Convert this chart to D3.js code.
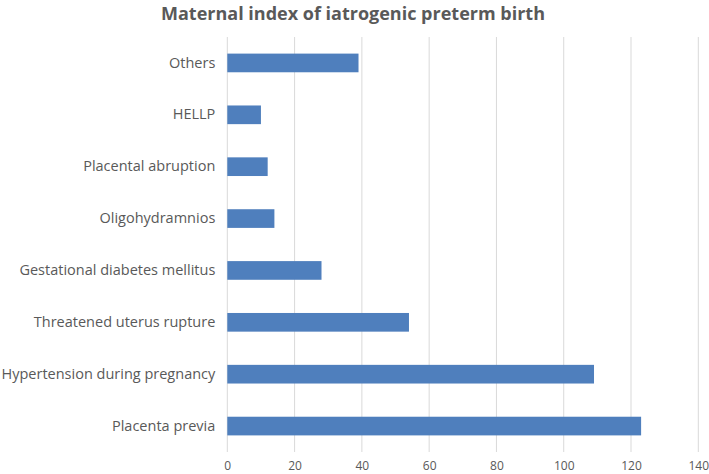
<!DOCTYPE html>
<html>
<head>
<meta charset="utf-8">
<script src="https://cdn.jsdelivr.net/npm/d3@7"></script>
<style>
  body { margin: 0; background: #fff; }
  svg text { font-family: "Open Sans", sans-serif; fill: #595959; }
</style>
</head>
<body>
<div id="chart"></div>
<script>
// categories top to bottom, as in the picture
const categories = [
  "Others",
  "HELLP",
  "Placental abruption",
  "Oligohydramnios",
  "Gestational diabetes mellitus",
  "Threatened uterus rupture",
  "Hypertension during pregnancy",
  "Placenta previa"
];
const values = [39, 10, 12, 14, 28, 54, 109, 123];
const xTicks = [0, 20, 40, 60, 80, 100, 120, 140];
const title = "Maternal index of iatrogenic preterm birth";

const width = 709, height = 474;
const margin = {top: 37, right: 10.7, bottom: 22, left: 227.3};

const svg = d3.select("#chart")
  .append("svg")
    .attr("width", width)
    .attr("height", height);

const x = d3.scaleLinear()
  .domain([0, 140])
  .range([margin.left, width - margin.right]);

const y = d3.scaleBand()
  .domain(categories)
  .range([margin.top, height - margin.bottom])
  .paddingInner(0.64)
  .paddingOuter(0.32);

// gridlines
svg.append("g")
  .selectAll("line")
  .data(xTicks)
  .join("line")
    .attr("x1", d => x(d))
    .attr("x2", d => x(d))
    .attr("y1", margin.top)
    .attr("y2", height - margin.bottom)
    .attr("stroke", "#d9d9d9")
    .attr("stroke-width", 1);

// bars
svg.append("g")
  .selectAll("rect")
  .data(values)
  .join("rect")
    .attr("x", x(0))
    .attr("y", (d, i) => y(categories[i]))
    .attr("width", d => x(d) - x(0))
    .attr("height", y.bandwidth())
    .attr("fill", "#4f7fbd");

// x tick labels
const xAxis = d3.axisBottom(x).tickValues(xTicks).tickSize(0).tickPadding(9);
svg.append("g")
  .attr("transform", `translate(0, ${height - margin.bottom})`)
  .call(xAxis)
  .call(g => g.select(".domain").remove())
  .call(g => g.selectAll("text")
    .attr("font-family", "Open Sans, sans-serif")
    .attr("font-size", 12)
    .attr("fill", "#595959"));

// category labels
const yAxis = d3.axisLeft(y).tickSize(0).tickPadding(12);
svg.append("g")
  .attr("transform", `translate(${margin.left}, 0)`)
  .call(yAxis)
  .call(g => g.select(".domain").remove())
  .call(g => g.selectAll("text")
    .attr("font-family", "Open Sans, sans-serif")
    .attr("font-size", 14.5)
    .attr("fill", "#595959"));

svg.append("text")
  .attr("x", 353)
  .attr("y", 20)
  .attr("text-anchor", "middle")
  .attr("font-size", 18)
  .attr("font-weight", "bold")
  .text(title);
</script>
</body>
</html>
